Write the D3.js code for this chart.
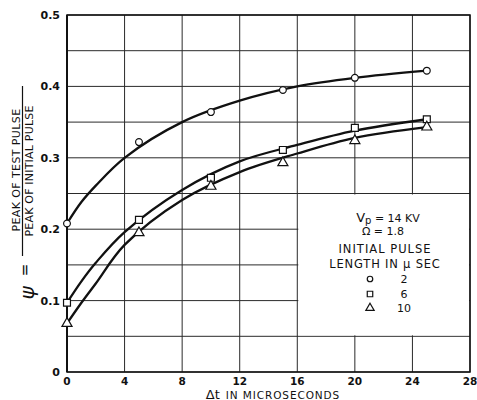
<!DOCTYPE html>
<html>
<head>
  <meta charset="utf-8">
  <script src="https://d3js.org/d3.v7.min.js"></script>
  <style>
    body { margin: 0; background: #fff; }
    text { font-family: "DejaVu Sans", sans-serif; fill: #111; }
  </style>
</head>
<body>
  <script>
    // Data
    const dt = [0, 5, 10, 15, 20, 25];
    const psi2 = [0.208, 0.322, 0.364, 0.395, 0.412, 0.422];
    const psi6 = [0.097, 0.213, 0.272, 0.311, 0.342, 0.354];
    const psi10 = [0.068, 0.195, 0.260, 0.293, 0.324, 0.343];

    // The hand-drawn smooth curves, sampled from the figure
    const fitX = [0, 1, 2, 4, 8, 12, 16, 20, 25];
    const fit2 = [0.208, 0.238, 0.261, 0.300, 0.350, 0.380, 0.400, 0.412, 0.422];
    const fit6 = [0.097, 0.127, 0.153, 0.196, 0.255, 0.295, 0.318, 0.338, 0.354];
    const fit10 = [0.068, 0.097, 0.124, 0.178, 0.241, 0.280, 0.306, 0.328, 0.343];

    const pulseLengths = ["2", "6", "10"];
    const xTicks = [0, 4, 8, 12, 16, 20, 24, 28];
    const yTicks = [0, 0.1, 0.2, 0.3, 0.4, 0.5];
    const yGrid = [0, 0.05, 0.1, 0.15, 0.2, 0.25, 0.3, 0.35, 0.4, 0.45, 0.5];

    const width = 477, height = 400;
    const x = d3.scaleLinear().domain([0, 28]).range([67, 470]);
    const y = d3.scaleLinear().domain([0, 0.5]).range([372, 15]);

    const svg = d3.select("body").append("svg")
      .attr("width", width)
      .attr("height", height);

    // grid
    const grid = svg.append("g").attr("stroke", "#2a2a2a").attr("stroke-width", 1);
    grid.selectAll("line.v").data(xTicks).join("line")
      .attr("x1", d => x(d)).attr("x2", d => x(d))
      .attr("y1", y(0)).attr("y2", y(0.5));
    grid.selectAll("line.h").data(yGrid).join("line")
      .attr("x1", x(0)).attr("x2", x(28))
      .attr("y1", d => y(d)).attr("y2", d => y(d));

    // white legend panel knocks out the grid
    svg.append("rect")
      .attr("x", x(16) + 1).attr("y", y(0.25) + 1)
      .attr("width", x(28) - x(16) - 2)
      .attr("height", y(0.05) - y(0.25) - 2)
      .attr("fill", "#fff");

    // frame
    svg.append("rect")
      .attr("x", x(0)).attr("y", y(0.5))
      .attr("width", x(28) - x(0)).attr("height", y(0) - y(0.5))
      .attr("fill", "none").attr("stroke", "#111").attr("stroke-width", 1.5);
    svg.append("line")
      .attr("x1", x(0)).attr("x2", x(0)).attr("y1", y(0)).attr("y2", y(0.5))
      .attr("stroke", "#111").attr("stroke-width", 2);

    // tick labels
    svg.append("g").selectAll("text").data(xTicks).join("text")
      .attr("x", d => x(d)).attr("y", 385)
      .attr("text-anchor", "middle")
      .attr("font-size", 10.5).attr("font-weight", "bold")
      .text(d => d);
    svg.append("g").selectAll("text").data(yTicks).join("text")
      .attr("x", 60).attr("y", d => y(d) + 4)
      .attr("text-anchor", "end")
      .attr("font-size", 11).attr("font-weight", "bold")
      .text(d => d === 0 ? "0" : d3.format(".1f")(d));

    // x title
    const xt = svg.append("text").attr("x", 273).attr("y", 398.5).attr("text-anchor", "middle");
    xt.append("tspan").attr("font-size", 13).text("Δt");
    xt.append("tspan").attr("font-size", 10.5).attr("dx", 6)
      .attr("letter-spacing", 0.9).text("IN MICROSECONDS");

    // y title
    svg.append("text")
      .attr("transform", "translate(34,293) rotate(-90)")
      .attr("text-anchor", "middle")
      .attr("font-family", "DejaVu Serif").attr("font-style", "italic")
      .attr("font-size", 20)
      .text("ψ");
    svg.append("text")
      .attr("transform", "translate(30,270) rotate(-90)")
      .attr("text-anchor", "middle")
      .attr("font-size", 15)
      .text("=");
    svg.append("text")
      .attr("transform", "translate(20,170) rotate(-90)")
      .attr("text-anchor", "middle")
      .attr("font-size", 11).attr("letter-spacing", 0.4)
      .text("PEAK OF TEST PULSE");
    svg.append("line")
      .attr("x1", 22.5).attr("x2", 22.5).attr("y1", 86).attr("y2", 256)
      .attr("stroke", "#111").attr("stroke-width", 1.2);
    svg.append("text")
      .attr("transform", "translate(33,171) rotate(-90)")
      .attr("text-anchor", "middle")
      .attr("font-size", 11).attr("letter-spacing", 0.2)
      .text("PEAK OF INITIAL PULSE");

    // curves
    const line = d3.line()
      .x(d => x(d[0])).y(d => y(d[1]))
      .curve(d3.curveCatmullRom.alpha(0.5));
    [fit2, fit6, fit10].forEach(fit => {
      svg.append("path")
        .datum(fitX.map((v, i) => [v, fit[i]]))
        .attr("fill", "none").attr("stroke", "#111").attr("stroke-width", 2.3)
        .attr("d", line);
    });

    // markers
    const symCircle = d3.symbol().type(d3.symbolCircle).size(36);
    const symSquare = d3.symbol().type(d3.symbolSquare).size(48);
    const symTri = d3.symbol().type(d3.symbolTriangle).size(44);
    const series = [
      { vals: psi2, sym: symCircle },
      { vals: psi6, sym: symSquare },
      { vals: psi10, sym: symTri }
    ];
    series.forEach(s => {
      svg.append("g").selectAll("path").data(dt).join("path")
        .attr("transform", (d, i) => `translate(${x(d)},${y(s.vals[i])})`)
        .attr("d", s.sym())
        .attr("fill", "#fff").attr("stroke", "#111").attr("stroke-width", 1.2);
    });

    // legend
    const lg = svg.append("g").attr("text-anchor", "middle").attr("font-size", 11.5);
    const vp = lg.append("text").attr("x", 388).attr("y", 222);
    vp.append("tspan").attr("font-size", 13).text("V");
    vp.append("tspan").attr("font-size", 10).attr("dy", 2).text("p");
    vp.append("tspan").attr("dy", -2).attr("font-size", 11).text(" = 14 KV");
    lg.append("text").attr("x", 383).attr("y", 235).attr("font-size", 11).text("Ω = 1.8");
    lg.append("text").attr("x", 385).attr("y", 253).attr("letter-spacing", 1).text("INITIAL PULSE");
    lg.append("text").attr("x", 385).attr("y", 268).attr("letter-spacing", 0.8).text("LENGTH IN μ SEC");

    const rowsY = [279, 294, 308];
    const legendSyms = [
      d3.symbol().type(d3.symbolCircle).size(24),
      d3.symbol().type(d3.symbolSquare).size(30),
      d3.symbol().type(d3.symbolTriangle).size(30)
    ];
    pulseLengths.forEach((p, i) => {
      lg.append("path")
        .attr("transform", `translate(370,${rowsY[i]})`)
        .attr("d", legendSyms[i]())
        .attr("fill", "#fff").attr("stroke", "#111").attr("stroke-width", 1.2);
      lg.append("text").attr("x", 404).attr("y", rowsY[i] + 4).attr("font-size", 11).text(p);
    });
  </script>
</body>
</html>
